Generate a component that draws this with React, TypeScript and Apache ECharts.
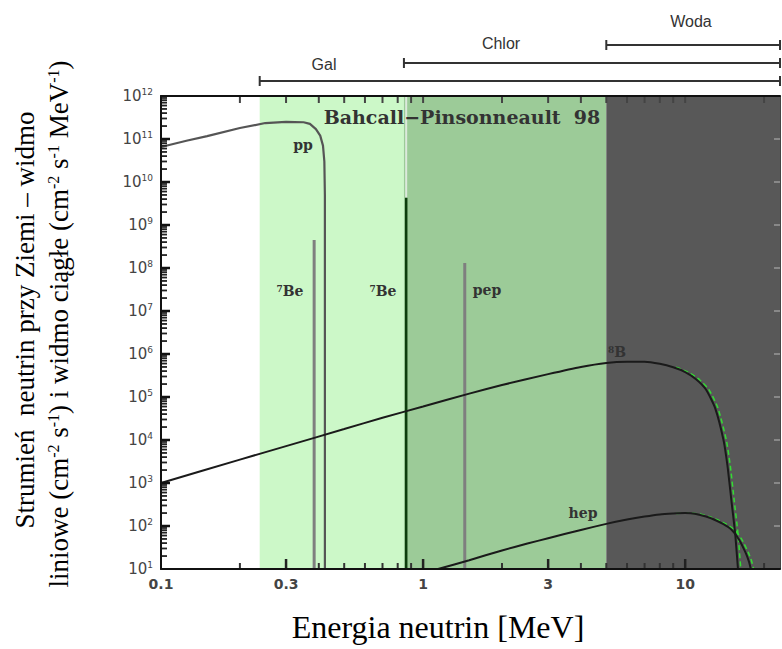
import React, { useEffect, useRef } from 'react';
import * as echarts from 'echarts';

// Axis ranges
const X_MIN = 0.1;
const X_MAX = 23;
const Y_MIN = 10;
const Y_MAX = 1e12;

// Tick labels
const xLabelValues = [0.1, 0.3, 1, 3, 10];
const xMinorTicks = [0.2, 0.4, 0.5, 0.6, 0.7, 0.8, 0.9, 2, 4, 5, 6, 7, 8, 9, 20];
const yExponents = [1, 2, 3, 4, 5, 6, 7, 8, 9, 10, 11, 12];
const yMinorMantissas = [2, 3, 4, 5, 6, 7, 8, 9];

// pp continuous spectrum
const ppEnergy = [0.1, 0.125, 0.15, 0.2, 0.25, 0.3, 0.35, 0.37, 0.39, 0.405, 0.415, 0.42, 0.422, 0.422];
const ppFlux = [6.5e10, 9.1e10, 1.17e11, 1.8e11, 2.35e11, 2.5e11, 2.45e11, 2.25e11, 1.7e11, 1.2e11, 7e10, 3e10, 5e9, 10];

// 8B continuous spectrum
const b8Energy = [0.1, 0.2, 0.3, 0.5, 0.7, 1, 1.5, 2, 3, 4, 5, 6, 7, 8, 9, 10, 11, 12, 13, 14, 14.5, 15, 15.5, 15.9];
const b8Flux = [1.0e3, 3.5e3, 7.2e3, 1.8e4, 3.3e4, 6.0e4, 1.2e5, 1.9e5, 3.4e5, 5.0e5, 6.2e5, 6.6e5, 6.6e5, 5.9e5, 4.9e5, 3.8e5, 2.6e5, 1.5e5, 5.6e4, 1.0e4, 2.5e3, 4.0e2, 70, 10];

// hep continuous spectrum
const hepEnergy = [1.14, 1.5, 2, 2.5, 3, 4, 5, 6, 7, 8, 9, 10, 11, 12, 13, 14, 15, 16, 17, 17.5, 17.8];
const hepFlux = [10, 16, 27, 39, 52, 81, 112, 141, 166, 186, 195, 200, 191, 166, 138, 110, 83, 50, 24, 15, 10];

// Line spectra
const lineEnergy = [0.384, 0.862, 1.442];
const lineFlux = [4.5e8, 4.3e9, 1.3e8];
const lineColors = ['#7f7f7f', '#0d3d0d', '#7f7f7f'];

// Detector thresholds
const detectorNames = ['Gal', 'Chlor', 'Woda'];
const detectorThresholds = [0.238, 0.845, 5.0];
const detectorLevels = [1, 2, 3];
const bandColors = ['#ccf8c8', '#9ccb98', '#585858'];

// energy from which the green trace of the tails is visible
const GREEN_FROM = 9;

const zip = (a: number[], b: number[]) => a.map((v, i) => [v, b[i]]);

export default function App() {
  const ref = useRef<HTMLDivElement>(null);
  useEffect(() => {
    if (!ref.current) return;
    const chart = echarts.init(ref.current, null, { renderer: 'svg' });
    const yMajor = yExponents.map((e) => Math.pow(10, e));
    const yMinor: number[] = [];
    yExponents.slice(0, -1).forEach((e) => yMinorMantissas.forEach((m) => yMinor.push(m * Math.pow(10, e))));
    const xMajorTicks = xLabelValues.slice(1);

    const bandEdges = [...detectorThresholds, X_MAX];
    const markAreaData = bandColors.map((c, i) => [
      { xAxis: bandEdges[i], itemStyle: { color: c } },
      { xAxis: bandEdges[i + 1] },
    ]);

    const lineSeries = lineEnergy.map((e, i) => ({
      type: 'line',
      xAxisIndex: 0,
      yAxisIndex: 0,
      data: [[e, Y_MIN], [e, lineFlux[i]]],
      symbol: 'none',
      z: 4,
      lineStyle: { color: lineColors[i], width: i === 1 ? 2.5 : 3 },
    }));

    const detectorSeries = detectorThresholds.map((t, i) => ({
      type: 'line',
      xAxisIndex: 2,
      yAxisIndex: 2,
      data: [[t, detectorLevels[i]], [X_MAX, detectorLevels[i]]],
      symbol: 'rect',
      symbolSize: [2, 10],
      itemStyle: { color: '#333' },
      lineStyle: { color: '#333', width: 2 },
    }));

    const b8Tail = zip(b8Energy, b8Flux).filter((p) => p[0] >= GREEN_FROM);
    const hepTail = zip(hepEnergy, hepFlux).filter((p) => p[0] >= GREEN_FROM);

    const baseText = (text: string, x: number, y: number, size: number, extra: any = {}) => ({
      type: 'text',
      x,
      y,
      z: 10,
      style: {
        text,
        fontSize: size,
        fontFamily: 'DejaVu Serif',
        fontWeight: 'bold',
        fill: '#333',
        align: 'center',
        verticalAlign: 'middle',
        textAlign: 'center',
        textVerticalAlign: 'middle',
        ...extra,
      },
    });

    const supRich = { s: { fontSize: 9, fontFamily: 'DejaVu Serif', fontWeight: 'bold', fill: '#333', verticalAlign: 'top' } };

    const texts: any[] = [
      baseText('Bahcall\u2212Pinsonneault  98', 462, 117, 19),
      baseText('pp', 303, 145, 14),
      baseText('{s|7}Be', 290, 291, 14, { rich: supRich }),
      baseText('{s|7}Be', 383, 291, 14, { rich: supRich }),
      baseText('pep', 487, 290, 14),
      baseText('{s|8}B', 617, 352, 14, { rich: supRich }),
      baseText('hep', 583, 513, 14),
      ...detectorNames.map((n, i) =>
        baseText(n, [324, 501, 691][i], [64, 43, 21][i], 16, { fontFamily: 'Liberation Sans', fontWeight: 'normal' })
      ),
      baseText('Energia neutrin [MeV]', 438, 627, 32, { fontFamily: 'Liberation Serif', fontWeight: 'normal', fill: '#000' }),
      {
        type: 'text', x: 25, y: 320, rotation: Math.PI / 2, z: 10,
        style: {
          text: 'Strumień  neutrin przy Ziemi – widmo',
          fontSize: 27, fontFamily: 'Liberation Serif', fill: '#000',
          align: 'center', verticalAlign: 'middle', textAlign: 'center', textVerticalAlign: 'middle',
        },
      },
      {
        type: 'text', x: 59, y: 324, rotation: Math.PI / 2, z: 10,
        style: {
          text: 'liniowe (cm{s|-2} s{s|-1}) i widmo ciągłe (cm{s|-2} s{s|-1} MeV{s|-1})',
          fontSize: 27, fontFamily: 'Liberation Serif', fill: '#000',
          align: 'center', verticalAlign: 'middle', textAlign: 'center', textVerticalAlign: 'middle',
          rich: { s: { fontSize: 16, fontFamily: 'Liberation Serif', fill: '#000', verticalAlign: 'top' } },
        },
      },
    ];

    const option: any = {
      animation: false,
      backgroundColor: '#ffffff',
      grid: [
        { left: 161, right: 2, top: 96, bottom: 80 },
        { left: 161, right: 2, top: 27, height: 72 },
      ],
      xAxis: [
        {
          type: 'log', gridIndex: 0, min: X_MIN, max: X_MAX, position: 'bottom', z: 20,
          axisLine: { show: true, lineStyle: { color: '#111', width: 2 } },
          axisTick: { show: false },
          axisLabel: {
            customValues: xLabelValues,
            formatter: (v: number) => (v < 1 ? v.toFixed(1) : String(Math.round(v))),
            color: '#444', fontFamily: 'DejaVu Sans', fontWeight: 'bold', fontSize: 14, margin: 8,
          },
          splitLine: { show: false },
        },
        // hidden axis, slightly shifted, used for the green trace of the tails
        { type: 'log', gridIndex: 0, min: X_MIN / 1.025, max: X_MAX / 1.025, show: false },
        { type: 'log', gridIndex: 1, min: X_MIN, max: X_MAX, show: false },
        {
          type: 'log', gridIndex: 0, min: X_MIN, max: X_MAX, position: 'top', z: 20,
          axisLine: { show: true, lineStyle: { color: '#111', width: 2 } },
          axisTick: { show: false },
          axisLabel: { show: false },
          splitLine: { show: false },
        },
      ],
      yAxis: [
        {
          type: 'log', gridIndex: 0, min: Y_MIN, max: Y_MAX, position: 'left', z: 20,
          axisLine: { show: true, lineStyle: { color: '#111', width: 2 } },
          axisTick: { show: false },
          axisLabel: {
            customValues: yMajor,
            formatter: (v: number) => `{b|10}{s|${Math.round(Math.log10(v))}}`,
            margin: 8,
            rich: {
              b: { fontSize: 15, fontFamily: 'DejaVu Sans', color: '#444', lineHeight: 17 },
              s: { fontSize: 9, fontFamily: 'DejaVu Sans', color: '#444', verticalAlign: 'top', lineHeight: 17 },
            },
          },
          splitLine: { show: false },
        },
        {
          type: 'log', gridIndex: 0, min: Y_MIN, max: Y_MAX, position: 'right', z: 20,
          axisLine: { show: true, lineStyle: { color: '#444', width: 1 } },
          axisTick: { show: false },
          axisLabel: { show: false },
          splitLine: { show: false },
        },
        { type: 'value', gridIndex: 1, min: 0, max: 4, show: false },
      ],
      series: [
        {
          type: 'line',
          name: 'pp',
          xAxisIndex: 0,
          yAxisIndex: 0,
          data: zip(ppEnergy, ppFlux),
          symbol: 'none',
          z: 3,
          lineStyle: { color: '#555', width: 2.2 },
          markArea: { silent: true, data: markAreaData },
        },
        {
          type: 'line', name: '7Be edge', xAxisIndex: 0, yAxisIndex: 0,
          data: [[lineEnergy[1], lineFlux[1]], [lineEnergy[1], Y_MAX]], symbol: 'none', z: 2,
          lineStyle: { color: '#dce9dc', width: 2 },
        },
        {
          type: 'line', name: '8B green', xAxisIndex: 1, yAxisIndex: 0,
          data: b8Tail, symbol: 'none', z: 4, smooth: 0.2,
          lineStyle: { color: '#33dd33', width: 1.5, type: [5, 3] },
        },
        {
          type: 'line', name: 'hep green', xAxisIndex: 1, yAxisIndex: 0,
          data: hepTail, symbol: 'none', z: 4, smooth: 0.2,
          lineStyle: { color: '#33dd33', width: 1.5, type: [5, 3] },
        },
        {
          type: 'line', name: '8B', xAxisIndex: 0, yAxisIndex: 0,
          data: zip(b8Energy, b8Flux), symbol: 'none', z: 5, smooth: 0.2,
          lineStyle: { color: '#1a1a1a', width: 2 },
        },
        {
          type: 'line', name: 'hep', xAxisIndex: 0, yAxisIndex: 0,
          data: zip(hepEnergy, hepFlux), symbol: 'none', z: 5, smooth: 0.2,
          lineStyle: { color: '#1a1a1a', width: 2 },
        },
        ...lineSeries,
        ...detectorSeries,
      ],
      graphic: texts,
    };
    chart.setOption(option);

    // inside axis ticks, positioned through the axes' scales
    const px = (v: number) => chart.convertToPixel({ xAxisIndex: 0 }, v) as number;
    const py = (v: number) => chart.convertToPixel({ yAxisIndex: 0 }, v) as number;
    const left = px(X_MIN);
    const right = px(X_MAX);
    const bottom = py(Y_MIN);
    const top = py(Y_MAX);
    const tick = (x1: number, y1: number, x2: number, y2: number, w: number, c: string) => ({
      type: 'line',
      z: 15,
      silent: true,
      shape: { x1, y1, x2, y2 },
      style: { stroke: c, lineWidth: w },
    });
    const ticks: any[] = [];
    xMajorTicks.forEach((v) => ticks.push(tick(px(v), bottom, px(v), bottom - 10, 2.5, '#222')));
    xMinorTicks.forEach((v) => ticks.push(tick(px(v), bottom, px(v), bottom - 6, 2, '#333')));
    [...xMajorTicks, ...xMinorTicks].forEach((v) => ticks.push(tick(px(v), top, px(v), top + 7, 2, '#444')));
    yMajor.filter((v) => v > Y_MIN && v < Y_MAX).forEach((v) => {
      ticks.push(tick(left, py(v), left + 9, py(v), 2.5, '#111'));
      ticks.push(tick(right, py(v), right - 6, py(v), 1.5, '#999'));
    });
    yMinor.forEach((v) => ticks.push(tick(left, py(v), left + 6, py(v), 1.8, '#222')));
    chart.setOption({ graphic: [...texts, ...ticks] });

    return () => chart.dispose();
  }, []);
  return <div ref={ref} style={{ width: 782, height: 649, position: 'absolute', left: 0, top: 0 }} />;
}
